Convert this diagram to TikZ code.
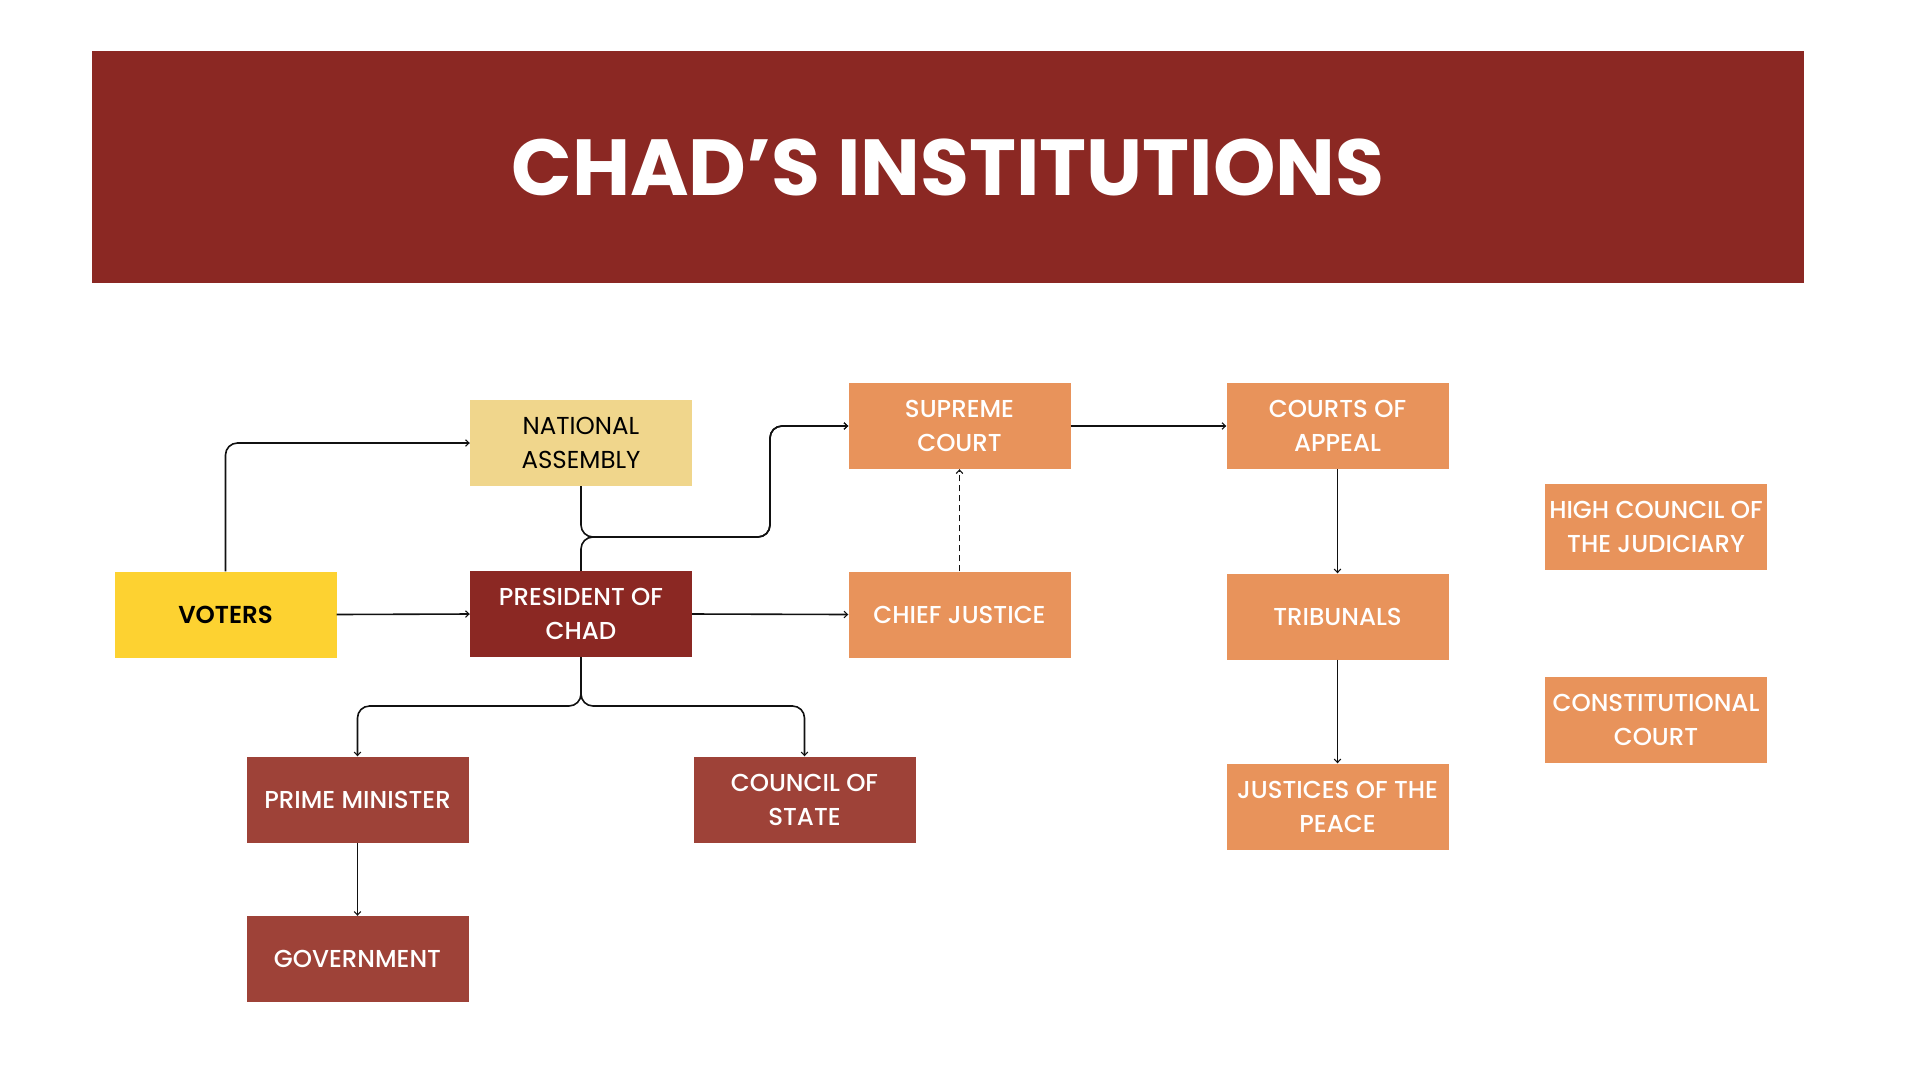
\documentclass[tikz,border=0pt]{standalone}
\usepackage{fontspec}
\setmainfont{Poppins}
\newfontfamily\medfont{Poppins}[UprightFont={* Medium}, BoldFont={* SemiBold}]
\usetikzlibrary{arrows.meta}
\definecolor{bannerred}{HTML}{8B2823}
\definecolor{napale}{HTML}{F0D68C}
\definecolor{voteryellow}{HTML}{FDD231}
\definecolor{courtorange}{HTML}{E8935B}
\definecolor{execred}{HTML}{9E4238}
\definecolor{linecol}{HTML}{111111}
\tikzset{
  box/.style={rectangle, minimum width=222pt, minimum height=86pt, inner sep=0pt,
    align=center, text=white, font=\medfont\fontsize{24.5}{34}\selectfont},
  conn/.style={draw=linecol, line width=1.6pt, rounded corners=12pt,
    -{Straight Barb[length=3.5pt,width=6.5pt,line width=1.1pt]}},
}
\begin{document}
\begin{tikzpicture}[x=1pt,y=-1pt]
\useasboundingbox (0,0) rectangle (1920,1080);
\fill[white] (0,0) rectangle (1920,1080);
\fill[bannerred] (92,51) rectangle (1804,283);
\node[text=white, font=\bfseries\fontsize{79.5}{80}\selectfont] (title) at (948,167) {CHAD’S INSTITUTIONS};

\node[box, fill=napale, text=black, font=\fontsize{24.5}{34}\selectfont] (na) at (581,443) {NATIONAL\\ASSEMBLY};
\node[box, fill=voteryellow, text=black, font=\medfont\bfseries\fontsize{24.5}{34}\selectfont] (voters) at (225.5,614.5) {VOTERS};
\node[box, fill=bannerred] (pres) at (581,614) {PRESIDENT OF\\CHAD};
\node[box, fill=courtorange] (sc) at (959.5,426) {SUPREME\\COURT};
\node[box, fill=courtorange] (cj) at (959.5,614.5) {CHIEF JUSTICE};
\node[box, fill=courtorange] (coa) at (1337.5,426) {COURTS OF\\APPEAL};
\node[box, fill=courtorange] (trib) at (1337.5,616.5) {TRIBUNALS};
\node[box, fill=courtorange] (jp) at (1337.5,806.5) {JUSTICES OF THE\\PEACE};
\node[box, fill=courtorange] (hcj) at (1656,526.5) {HIGH COUNCIL OF\\THE JUDICIARY};
\node[box, fill=courtorange] (cc) at (1656,719.5) {CONSTITUTIONAL\\COURT};
\node[box, fill=execred] (pm) at (357.5,799.5) {PRIME MINISTER};
\node[box, fill=execred] (cos) at (804.5,799.5) {COUNCIL OF\\STATE};
\node[box, fill=execred] (gov) at (357.5,959) {GOVERNMENT};

\coordinate (j) at (770,537);
\coordinate (k) at (581,706);

\draw[conn] (voters.north) |- (na.west);
\draw[conn] (voters.east) -- (pres.west);
\draw[conn] (na.south) |- (j) |- (sc.west);
\draw[conn] (pres.north) |- (j) |- (sc.west);
\draw[conn] (pres.east) -- (cj.west);
\draw[conn, dash pattern=on 6pt off 4pt] (cj.north) -- (sc.south);
\draw[conn] (sc.east) -- (coa.west);
\draw[conn] (coa.south) -- (trib.north);
\draw[conn] (trib.south) -- (jp.north);
\draw[conn] (pres.south) -- (k) -| (pm.north);
\draw[conn] (pres.south) -- (k) -| (cos.north);
\draw[conn] (pm.south) -- (gov.north);
\end{tikzpicture}
\end{document}
